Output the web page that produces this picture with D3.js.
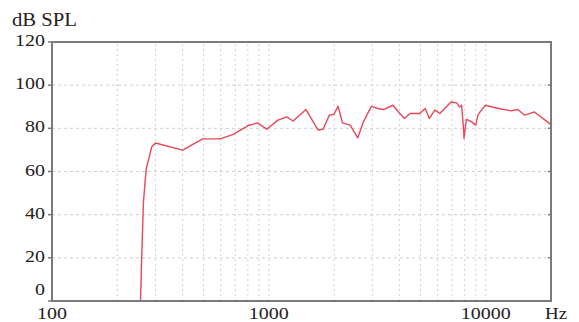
<!DOCTYPE html>
<html>
<head>
<meta charset="utf-8">
<script src="https://cdn.jsdelivr.net/npm/d3@7"></script>
<style>
  html, body { margin: 0; padding: 0; background: #fff; }
</style>
</head>
<body>
<div id="chart"></div>
<script>
const width = 579;
const height = 322;
const margin = { top: 42, right: 28, bottom: 21, left: 52 };
const fontFamily = "'Times New Roman', 'Liberation Serif', 'DejaVu Serif', serif";

// frequency response
const freq = [256, 259, 264, 269, 273, 281, 288, 300, 400, 495, 596, 685, 802, 887, 978,
    1100, 1207, 1294, 1483, 1687, 1780, 1899, 1996, 2085, 2187, 2370, 2571, 2728, 2968,
    3185, 3377, 3733, 3958, 4222, 4472, 4960, 5264, 5496, 5827, 6140, 6920, 7345, 7560,
    7740, 7900, 7940, 8140, 8620, 9000, 9200, 9420, 9960, 11440, 13140, 14080, 15100,
    16790, 19720, 20000];
const spl = [0, 19, 45.5, 56, 62.2, 66.8, 71.4, 73.2, 69.9, 75.1, 75.1, 77.2, 81.3, 82.5, 79.6,
    83.8, 85.3, 83.4, 88.7, 79.2, 79.6, 86.1, 86.5, 90.2, 82.5, 81.5, 75.6, 83.0, 90.2,
    89.2, 88.7, 90.7, 87.6, 84.6, 86.9, 86.9, 89.2, 84.6, 88.4, 86.9, 92.2, 91.8, 89.9,
    90.7, 80, 75.3, 84.1, 83, 81.5, 86.1, 87.6, 90.7, 89.2, 88.1, 88.7, 86.1,
    87.6, 82.2, 81.5];

const yTicks = [0, 20, 40, 60, 80, 100, 120];
const xLabels = [100, 1000, 10000];
const xGrid = [200, 300, 400, 500, 600, 700, 800, 900, 1000,
    2000, 3000, 4000, 5000, 6000, 7000, 8000, 9000, 10000];

const svg = d3.select('#chart').append('svg')
    .attr('width', width)
    .attr('height', height)
    .style('font-family', fontFamily);

const x = d3.scaleLog()
    .domain([100, 20000])
    .range([margin.left, width - margin.right]);
const y = d3.scaleLinear()
    .domain([0, 120])
    .range([height - margin.bottom, margin.top]);

// grid
svg.append('g')
    .selectAll('line')
    .data(xGrid)
    .join('line')
    .attr('x1', d => x(d))
    .attr('x2', d => x(d))
    .attr('y1', y(0))
    .attr('y2', y(120))
    .style('stroke', '#cfcfcf')
    .style('stroke-width', 1)
    .style('stroke-dasharray', '2,3');

svg.append('g')
    .selectAll('line')
    .data(yTicks.filter(d => d > 0 && d < 120))
    .join('line')
    .attr('x1', x(100))
    .attr('x2', x(20000))
    .attr('y1', d => y(d))
    .attr('y2', d => y(d))
    .style('stroke', '#cfcfcf')
    .style('stroke-width', 1)
    .style('stroke-dasharray', '3,3');

// response curve
const line = d3.line()
    .x((d, i) => x(freq[i]))
    .y(d => y(d));

svg.append('path')
    .datum(spl)
    .attr('d', line)
    .style('fill', 'none')
    .style('stroke', '#e8465a')
    .style('stroke-width', 1.4)
    .style('stroke-linejoin', 'round');

// frame
svg.append('rect')
    .attr('x', x(100))
    .attr('y', y(120))
    .attr('width', x(20000) - x(100))
    .attr('height', y(0) - y(120))
    .style('fill', 'none')
    .style('stroke', '#7a7a7a')
    .style('stroke-width', 2);

// tick marks on left and right
yTicks.forEach(t => {
    svg.append('line')
        .attr('x1', x(100) - 4).attr('x2', x(100))
        .attr('y1', y(t)).attr('y2', y(t))
        .style('stroke', '#7a7a7a').style('stroke-width', 1.5);
    svg.append('line')
        .attr('x1', x(20000) - 3).attr('x2', x(20000))
        .attr('y1', y(t)).attr('y2', y(t))
        .style('stroke', '#7a7a7a').style('stroke-width', 1.5);
});

// labels ("0" sits a little above the bottom line, as in the original)
svg.append('g')
    .selectAll('text')
    .data(yTicks)
    .join('text')
    .attr('x', 45)
    .attr('y', d => d === 0 ? y(d) - 6 : y(d) + 4)
    .attr('text-anchor', 'end')
    .attr('textLength', d => String(d).length * 10)
    .attr('lengthAdjust', 'spacingAndGlyphs')
    .style('font-size', '16px')
    .style('fill', '#222')
    .text(d => d);

svg.append('g')
    .selectAll('text')
    .data(xLabels)
    .join('text')
    .attr('x', d => x(d))
    .attr('y', 319)
    .attr('text-anchor', 'middle')
    .attr('textLength', d => String(d).length * 10)
    .attr('lengthAdjust', 'spacingAndGlyphs')
    .style('font-size', '16px')
    .style('fill', '#222')
    .text(d => d);

svg.append('text')
    .attr('x', 556)
    .attr('y', 319)
    .attr('text-anchor', 'middle')
    .attr('textLength', 22)
    .attr('lengthAdjust', 'spacingAndGlyphs')
    .style('font-size', '16px')
    .style('fill', '#222')
    .text('Hz');

svg.append('text')
    .attr('x', 12)
    .attr('y', 26)
    .attr('textLength', 65)
    .attr('lengthAdjust', 'spacingAndGlyphs')
    .style('font-size', '18px')
    .style('fill', '#222')
    .text('dB SPL');
</script>
</body>
</html>
